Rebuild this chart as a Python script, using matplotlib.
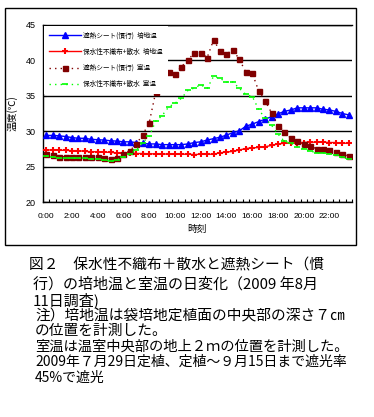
import matplotlib
matplotlib.use("Agg")
import matplotlib.pyplot as plt
import numpy as np
from matplotlib.patches import Rectangle

plt.rcParams['font.family'] = ['Noto Sans CJK JP', 'DejaVu Sans']

# ---- data (half-hourly, 0:00 .. 23:30) ----
tick_labels = ["0:00", "2:00", "4:00", "6:00", "8:00", "10:00", "12:00",
               "14:00", "16:00", "18:00", "20:00", "22:00"]
series_names = ["遮熱シート(慣行)  培地温", "保水性不織布+散水  培地温",
                "遮熱シート(慣行)  室温", "保水性不織布+散水  室温"]

sheet_medium = [29.4, 29.4, 29.35, 29.25, 29.1, 29.0, 29.0, 28.85, 28.8, 28.75,
                28.65, 28.6, 28.5, 28.5, 28.4, 28.3, 28.2, 28.2, 28.1, 28.1,
                28.1, 28.1, 28.2, 28.4, 28.5, 28.75, 28.95, 29.15, 29.45, 29.8,
                30.05, 30.7, 31.0, 31.35, 31.7, 32.05, 32.45, 32.8, 33.0, 33.3,
                33.3, 33.3, 33.3, 33.1, 33.0, 32.8, 32.5, 32.3]
cloth_medium = [27.35, 27.35, 27.3, 27.3, 27.25, 27.25, 27.15, 27.1, 27.1, 27.05,
                27.0, 26.95, 26.9, 26.9, 26.85, 26.85, 26.8, 26.8, 26.8, 26.75,
                26.75, 26.75, 26.75, 26.7, 26.75, 26.75, 26.75, 26.95, 27.05, 27.15,
                27.35, 27.55, 27.65, 27.7, 27.8, 28.0, 28.2, 28.3, 28.3, 28.4,
                28.4, 28.45, 28.45, 28.45, 28.4, 28.4, 28.3, 28.3]
sheet_room = [26.75, 26.6, 26.4, 26.4, 26.4, 26.4, 26.4, 26.4, 26.4, 26.25,
              26.05, 26.25, 26.85, 27.25, 28.2, 29.5, 31.2, 35.5, 36.05, 38.3,
              38.1, 39.1, 40.05, 41.05, 41.1, 40.4, 42.9, 41.3, 40.95, 41.4,
              40.2, 38.3, 38.2, 35.7, 34.3, 32.6, 30.8, 29.9, 29.0, 28.6,
              28.2, 27.85, 27.55, 27.55, 27.35, 27.05, 26.8, 26.5]
cloth_room = [26.5, 26.4, 26.2, 26.2, 26.2, 26.2, 26.15, 26.1, 26.1, 25.95,
              25.8, 25.95, 26.4, 26.75, 27.35, 28.4, 29.3, 31.4, 32.2, 33.4,
              33.95, 34.65, 35.75, 36.1, 36.55, 36.05, 37.75, 37.45, 36.95, 36.95,
              36.05, 35.2, 34.9, 33.1, 31.8, 30.85, 29.6, 28.55, 28.3, 27.8,
              27.55, 27.2, 26.95, 26.9, 26.8, 26.6, 26.3, 26.05]

caption_lines = [
    "図２　保水性不織布＋散水と遮熱シート（慣",
    "行）の培地温と室温の日変化（2009 年8月",
    "11日調査)",
    "注）培地温は袋培地定植面の中央部の深さ７㎝",
    "の位置を計測した。",
    "室温は温室中央部の地上２ｍの位置を計測した。",
    "2009年７月29日定植、定植～９月15日まで遮光率",
    "45%で遮光",
]

W, H = 374, 417
fig = plt.figure(figsize=(W / 100, H / 100), dpi=100)
fig.patches.append(Rectangle((5 / W, 1 - 245 / H), 351 / W, 237 / H,
                             transform=fig.transFigure, fill=False,
                             ec='black', lw=1))

ax = fig.add_axes([43 / W, 1 - 202 / H, 309 / W, 177 / H])
x = np.arange(len(sheet_medium))

ax.plot(x, sheet_medium, color='#0000ff', lw=1, marker='^', ms=4.5,
        mec='#0000ff', mfc='#0000ff', label=series_names[0], zorder=3)
ax.plot(x, cloth_medium, color='#ff0000', lw=1, marker='+', ms=4.5, mew=1.5,
        mec='#ff0000', label=series_names[1], zorder=3)
ax.plot(x, sheet_room, color='#800000', lw=1, ls=(0, (1, 3)), marker='s',
        ms=3.6, mec='#800000', mfc='#800000', label=series_names[2], zorder=4)
ax.plot(x, cloth_room, color='#00ff00', lw=1, ls=(0, (1, 3)), marker='_',
        ms=5, mew=1.2, mec='#00ff00', label=series_names[3], zorder=5)

ax.set_xlim(-0.5, len(x) - 0.5)
ax.set_ylim(20, 45)
ax.set_yticks([20, 25, 30, 35, 40, 45])
ax.set_xticks(np.arange(0, 48, 4))
ax.set_xticklabels(tick_labels)
ax.set_xticks(np.arange(-0.5, 48, 1), minor=True)
ax.tick_params(axis='x', which='major', length=0, pad=8, labelsize=6)
ax.tick_params(axis='x', which='minor', direction='in', length=2, width=0.8)
ax.tick_params(axis='y', which='major', direction='in', length=2, pad=5, labelsize=6.5)
for lab in ax.get_xticklabels() + ax.get_yticklabels():
    lab.set_family(['Liberation Sans', 'DejaVu Sans'])

ax.yaxis.grid(True, color='black', lw=1)
ax.set_axisbelow(True)
for s in ['left', 'bottom', 'top']:
    ax.spines[s].set_color('black')
    ax.spines[s].set_linewidth(1)
ax.spines['right'].set_visible(False)

ax.set_xlabel("時刻", fontsize=7, labelpad=3)
ax.set_ylabel("温度(℃)", fontsize=7, labelpad=6)

leg = ax.legend(loc='upper left', fontsize=4.8, frameon=True, facecolor='white',
                edgecolor='none', framealpha=1, fancybox=False, numpoints=1,
                handlelength=4.8, handletextpad=0.2, labelspacing=1.25,
                borderpad=0.8, borderaxespad=0.15)
leg.set_zorder(10)

ys = [265.5, 284.5, 300, 316, 331, 347, 362, 378]
xs = [29, 33, 33, 35, 35, 35, 35, 35]
sizes = [10.6, 10.8, 10.8, 10.6, 10.6, 10.3, 10.0, 10.0]
for s, xx, yy, fs in zip(caption_lines, xs, ys, sizes):
    fig.text(xx / W, 1 - yy / H, s, fontsize=fs, va='center', ha='left')

fig.savefig("out.png", dpi=100)
